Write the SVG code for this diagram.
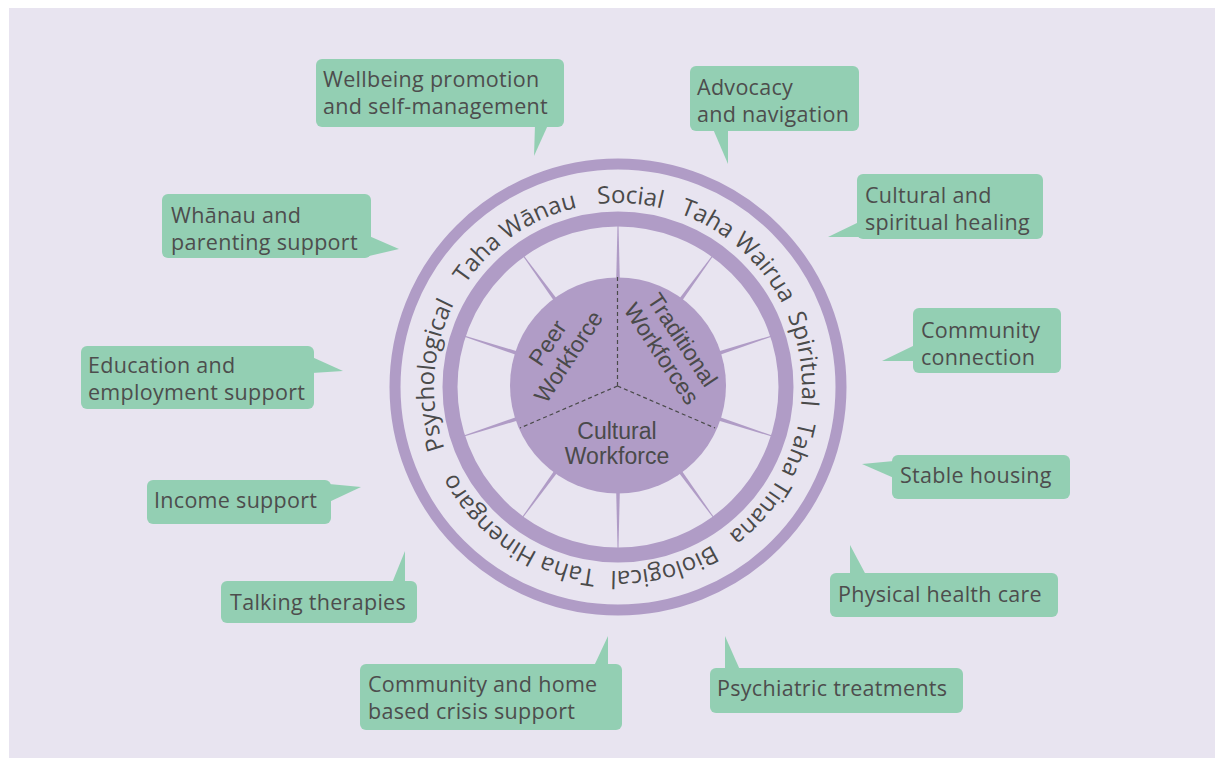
<svg xmlns="http://www.w3.org/2000/svg" xmlns:xlink="http://www.w3.org/1999/xlink" width="1215" height="758" viewBox="0 0 1215 758">
<style>
.callout{fill:#93cfb3}
.ctext{font-family:"Open Sans","Liberation Sans",sans-serif;font-size:21.5px;letter-spacing:0.3px;fill:#4d4d4d}
.ring{font-family:"Open Sans","Liberation Sans",sans-serif;font-size:24px;fill:#4a4a4a}
.disc{font-family:"Liberation Sans",Arial,sans-serif;font-size:23px;fill:#4a4a4a;text-anchor:middle}
.dash{stroke:#4a4a4a;stroke-width:1.2;stroke-dasharray:4 3;fill:none}
.spoke{fill:#b09cc6}
</style>
<defs>
<polygon id="spoke" points="-1.8,-106 1.8,-106 0.5,-162 -0.5,-162"/>
<path id="ringpath" d="M618,203 A184,184 0 1,1 618,571 A184,184 0 1,1 618,203 A184,184 0 1,1 618,571 A184,184 0 1,1 618,203"/>
</defs>
<rect x="0" y="0" width="1215" height="758" fill="#ffffff"/>
<rect x="9" y="8" width="1206" height="750" fill="#e8e4f0"/>

<g id="wheel">
<circle cx="618" cy="387" r="223" fill="none" stroke="#b09cc6" stroke-width="11"/>
<circle cx="618" cy="387" r="168" fill="none" stroke="#b09cc6" stroke-width="15"/>
<g class="spoke">
<use xlink:href="#spoke" transform="translate(618,386)"/>
<use xlink:href="#spoke" transform="translate(618,386) rotate(36)"/>
<use xlink:href="#spoke" transform="translate(618,386) rotate(72)"/>
<use xlink:href="#spoke" transform="translate(618,386) rotate(108)"/>
<use xlink:href="#spoke" transform="translate(618,386) rotate(144)"/>
<use xlink:href="#spoke" transform="translate(618,386) rotate(180)"/>
<use xlink:href="#spoke" transform="translate(618,386) rotate(216)"/>
<use xlink:href="#spoke" transform="translate(618,386) rotate(252)"/>
<use xlink:href="#spoke" transform="translate(618,386) rotate(288)"/>
<use xlink:href="#spoke" transform="translate(618,386) rotate(324)"/>
</g>
<circle cx="618" cy="385.5" r="108" fill="#b09cc6"/>
<path class="dash" d="M617.5,386 L617.5,277 M617.5,386 L520,428 M617.5,386 L715,428"/>
</g>

<g id="ring-labels" class="ring" text-anchor="middle">
<text><textPath xlink:href="#ringpath" startOffset="1167.7">Social</textPath></text>
<text><textPath xlink:href="#ringpath" startOffset="1288.4">Taha Wairua</textPath></text>
<text><textPath xlink:href="#ringpath" startOffset="1417.2">Spiritual</textPath></text>
<text><textPath xlink:href="#ringpath" startOffset="1547.2">Taha Tinana</textPath></text>
<text><textPath xlink:href="#ringpath" startOffset="1687.6">Biological</textPath></text>
<text><textPath xlink:href="#ringpath" startOffset="1844.6">Taha Hinengaro</textPath></text>
<text><textPath xlink:href="#ringpath" startOffset="2034.1">Psychological</textPath></text>
<text><textPath xlink:href="#ringpath" startOffset="2200.8">Taha Wānau</textPath></text>
</g>

<g id="peer-workforce">
<text class="disc" transform="translate(575,361) rotate(-56.5)"><tspan x="0" y="-25">Peer</tspan><tspan x="0" y="0">Workforce</tspan></text>
</g>
<g id="traditional-workforces">
<text class="disc" transform="translate(655,358) rotate(56.5)"><tspan x="0" y="-25">Traditional</tspan><tspan x="0" y="0">Workforces</tspan></text>
</g>
<g id="cultural-workforce">
<text class="disc"><tspan x="617" y="439">Cultural</tspan><tspan x="617" y="464">Workforce</tspan></text>
</g>

<g id="connectors"></g>

<g id="wellbeing">
<rect class="callout" x="316" y="59" width="248" height="68" rx="6"/>
<polygon class="callout" points="535,125 548,125 534,156"/>
<text class="ctext"><tspan x="323" y="87">Wellbeing promotion</tspan><tspan x="323" y="114">and self-management</tspan></text>
</g>
<g id="advocacy">
<rect class="callout" x="690" y="66" width="169" height="65" rx="6"/>
<polygon class="callout" points="713,129 728,129 728,164"/>
<text class="ctext"><tspan x="697" y="94.5">Advocacy</tspan><tspan x="697" y="121.5">and navigation</tspan></text>
</g>
<g id="cultural-spiritual">
<rect class="callout" x="857" y="174" width="186" height="65" rx="6"/>
<polygon class="callout" points="859,222 859,237 828,237"/>
<text class="ctext"><tspan x="865" y="203">Cultural and</tspan><tspan x="865" y="230">spiritual healing</tspan></text>
</g>
<g id="whanau">
<rect class="callout" x="162" y="194" width="209" height="64" rx="6"/>
<polygon class="callout" points="369,236 369,256 399,249"/>
<text class="ctext"><tspan x="171" y="222.5">Whānau and</tspan><tspan x="171" y="249.5">parenting support</tspan></text>
</g>
<g id="community-connection">
<rect class="callout" x="913" y="308" width="148" height="65" rx="6"/>
<polygon class="callout" points="915,345 915,361 882,361"/>
<text class="ctext"><tspan x="921" y="337.5">Community</tspan><tspan x="921" y="364.5">connection</tspan></text>
</g>
<g id="education">
<rect class="callout" x="81" y="346" width="233" height="63" rx="6"/>
<polygon class="callout" points="312,357 312,373 343,371"/>
<text class="ctext"><tspan x="88" y="373">Education and</tspan><tspan x="88" y="400">employment support</tspan></text>
</g>
<g id="stable-housing">
<rect class="callout" x="892" y="455" width="178" height="44" rx="6"/>
<polygon class="callout" points="894,461 894,478 862,464"/>
<text class="ctext" x="900" y="483">Stable housing</text>
</g>
<g id="income">
<rect class="callout" x="147" y="480" width="184" height="44" rx="6"/>
<polygon class="callout" points="329,484 329,502 361,487"/>
<text class="ctext" x="154" y="508">Income support</text>
</g>
<g id="physical-health">
<rect class="callout" x="830" y="573" width="228" height="44" rx="6"/>
<polygon class="callout" points="850,575 866,575 850,545"/>
<text class="ctext" x="838" y="602">Physical health care</text>
</g>
<g id="talking">
<rect class="callout" x="221" y="581" width="196" height="42" rx="6"/>
<polygon class="callout" points="392,583 405,583 405,551"/>
<text class="ctext" x="230" y="610">Talking therapies</text>
</g>
<g id="crisis">
<rect class="callout" x="360" y="664" width="262" height="66" rx="6"/>
<polygon class="callout" points="594,666 608,666 608,636"/>
<text class="ctext"><tspan x="368" y="691.5">Community and home</tspan><tspan x="368" y="718.5">based crisis support</tspan></text>
</g>
<g id="psychiatric">
<rect class="callout" x="710" y="668" width="253" height="45" rx="6"/>
<polygon class="callout" points="725,670 740,670 725,636"/>
<text class="ctext" x="717" y="696">Psychiatric treatments</text>
</g>
</svg>
